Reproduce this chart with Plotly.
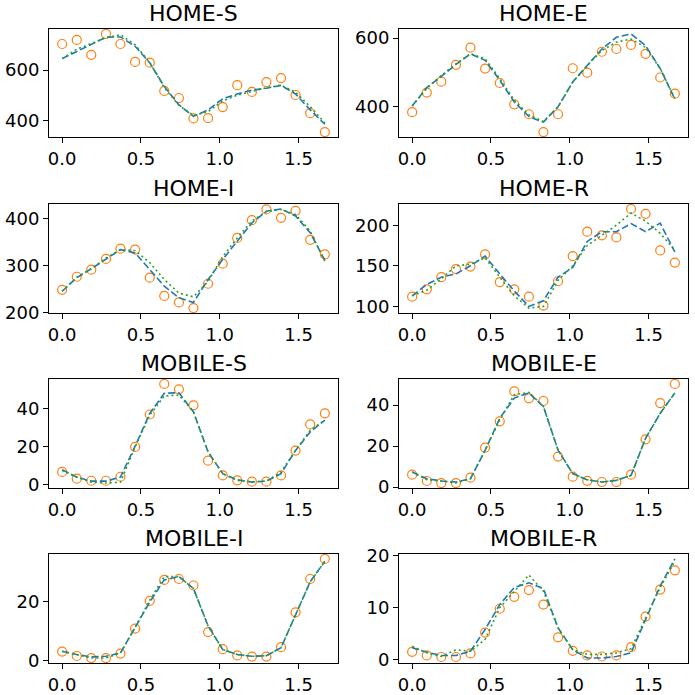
import plotly.graph_objects as go

X = [0.0, 0.093, 0.185, 0.278, 0.370, 0.463, 0.556, 0.648, 0.741, 0.833,
     0.926, 1.019, 1.111, 1.204, 1.296, 1.389, 1.481, 1.574, 1.667]

titles = ["HOME-S", "HOME-E", "HOME-I", "HOME-R",
          "MOBILE-S", "MOBILE-E", "MOBILE-I", "MOBILE-R"]

obs_home_s = [703, 719, 660, 743, 703, 632, 629, 517, 489, 408, 409, 453, 540, 513, 552, 568, 501, 429, 354]
blue_home_s = [645, 674, 700, 730, 731, 694, 628, 535, 462, 416, 442, 486, 505, 520, 528, 539, 505, 442, 385]
green_home_s = [645, 683, 705, 728, 740, 700, 630, 530, 460, 420, 435, 478, 500, 515, 530, 540, 512, 455, 390]

obs_home_e = [384, 441, 473, 522, 572, 511, 469, 407, 378, 326, 378, 512, 499, 560, 568, 580, 554, 485, 438]
blue_home_e = [402, 456, 488, 523, 554, 535, 477, 414, 371, 355, 400, 472, 520, 568, 602, 612, 578, 511, 422]
green_home_e = [402, 453, 491, 525, 554, 540, 482, 419, 376, 357, 400, 472, 520, 564, 588, 597, 573, 511, 424]

obs_home_i = [248, 276, 291, 314, 336, 334, 274, 235, 221, 209, 261, 304, 359, 397, 420, 402, 417, 355, 324]
blue_home_i = [245, 274, 293, 314, 334, 327, 291, 256, 231, 221, 270, 313, 352, 391, 416, 421, 406, 370, 311]
green_home_i = [245, 275, 293, 316, 334, 332, 306, 270, 241, 233, 266, 319, 359, 395, 416, 420, 409, 374, 309]

obs_home_r = [112, 121, 136, 146, 149, 164, 130, 121, 112, 101, 131, 162, 192, 187.5, 185, 220, 214, 169, 154]
blue_home_r = [113, 127, 136, 140, 150, 162, 140, 119, 100, 107, 136, 148, 180, 192, 192, 202, 192, 202.5, 167]
green_home_r = [113, 120, 134, 150, 152, 160, 136, 113, 98, 100, 132, 150, 175, 188, 200, 215, 205, 190, 169]

obs_mob_s = [6.7, 3.2, 2.1, 2.1, 4.2, 19.8, 36.8, 52.8, 50.0, 41.6, 12.6, 4.9, 2.3, 1.6, 1.6, 4.9, 17.9, 31.6, 37.4]
blue_mob_s = [7.9, 4.0, 1.9, 1.9, 4.0, 20.2, 37.4, 47.9, 48.2, 38.2, 17.2, 5.8, 2.6, 1.4, 1.9, 5.8, 18.0, 27.7, 33.9]
green_mob_s = [7.5, 4.0, 1.4, 0.9, 1.4, 19.8, 36.5, 46.5, 47.0, 38.2, 17.2, 5.8, 2.3, 1.6, 1.9, 6.7, 18.0, 28.6, 33.9]

obs_mob_e = [6.1, 3.0, 2.0, 2.0, 4.6, 19.3, 32.1, 46.7, 43.3, 42.0, 14.9, 5.1, 3.1, 2.5, 2.5, 6.1, 23.3, 41.0, 50.3]
blue_mob_e = [7.4, 4.1, 3.0, 2.5, 4.1, 18.0, 33.6, 43.4, 45.9, 39.3, 18.0, 6.6, 3.6, 2.5, 3.3, 5.7, 23.8, 36.0, 45.9]
green_mob_e = [7.4, 3.6, 3.0, 2.0, 4.1, 18.0, 32.8, 45.1, 46.2, 39.3, 18.0, 6.6, 3.6, 2.5, 3.3, 5.7, 23.8, 36.0, 45.9]

obs_mob_i = [3.1, 1.6, 0.9, 0.9, 2.4, 10.9, 20.3, 27.4, 27.7, 25.5, 9.7, 3.9, 1.8, 1.4, 1.4, 4.6, 16.4, 27.7, 34.5]
blue_mob_i = [3.2, 2.1, 1.3, 1.5, 2.6, 11.3, 19.9, 27.4, 28.5, 24.5, 11.8, 3.8, 2.1, 1.5, 1.7, 4.4, 15.3, 26.8, 33.7]
green_mob_i = [3.2, 2.1, 0.9, 0.9, 2.6, 11.3, 20.5, 28.5, 28.5, 24.5, 11.8, 3.8, 2.1, 1.5, 1.7, 4.4, 15.3, 26.8, 33.7]

obs_mob_r = [1.5, 0.8, 0.5, 0.5, 1.2, 5.2, 9.8, 12.1, 13.4, 10.6, 4.3, 1.7, 0.8, 0.6, 0.8, 2.4, 8.3, 13.5, 17.2]
blue_mob_r = [2.3, 1.4, 0.8, 0.8, 1.6, 5.8, 10.6, 13.9, 14.8, 13.7, 6.1, 1.9, 0.3, 0.3, 0.6, 1.3, 7.7, 14.2, 19.4]
green_mob_r = [2.6, 1.3, 0.6, 1.9, 1.6, 3.9, 10.0, 13.2, 16.3, 13.2, 6.1, 1.9, 1.0, 1.0, 1.3, 2.1, 8.1, 13.9, 19.0]

panels = [
    (obs_home_s, blue_home_s, green_home_s, 200),
    (obs_home_e, blue_home_e, green_home_e, 200),
    (obs_home_i, blue_home_i, green_home_i, 100),
    (obs_home_r, blue_home_r, green_home_r, 50),
    (obs_mob_s, blue_mob_s, green_mob_s, 20),
    (obs_mob_e, blue_mob_e, green_mob_e, 20),
    (obs_mob_i, blue_mob_i, green_mob_i, 20),
    (obs_mob_r, blue_mob_r, green_mob_r, 10),
]

W = H = 695
col_px = [(49, 338), (399, 688)]
row_px = [(29, 137), (204, 313), (379, 488), (554, 663)]

FONT = "DejaVu Sans"
fig = go.Figure()
layout = dict(
    width=W, height=H, margin=dict(l=0, r=0, t=0, b=0),
    paper_bgcolor="white", plot_bgcolor="white", showlegend=False,
    font=dict(family=FONT, size=18, color="black"),
)
annotations = []

def margin_range(vals):
    lo, hi = min(vals), max(vals)
    pad = 0.05 * (hi - lo)
    return [lo - pad, hi + pad]

xr = margin_range(X)

for i, (obs, blue, green, dt) in enumerate(panels):
    r, c = divmod(i, 2)
    n = i + 1
    xa = "x" if n == 1 else f"x{n}"
    ya = "y" if n == 1 else f"y{n}"
    fig.add_trace(go.Scatter(x=X, y=obs, mode="markers", xaxis=xa, yaxis=ya,
                             marker=dict(symbol="circle", size=9, color="rgba(0,0,0,0)",
                                         line=dict(color="#ff7f0e", width=1.2))))
    fig.add_trace(go.Scatter(x=X, y=blue, mode="lines", xaxis=xa, yaxis=ya,
                             line=dict(color="#1f77b4", width=1.6, dash="7px,3px")))
    fig.add_trace(go.Scatter(x=X, y=green, mode="lines", xaxis=xa, yaxis=ya,
                             line=dict(color="#2ca02c", width=1.6, dash="2px,3px")))
    x0, x1 = col_px[c]
    y0, y1 = row_px[r]
    xd = [x0 / W, x1 / W]
    yd = [1 - y1 / H, 1 - y0 / H]
    common = dict(showline=True, linecolor="black", linewidth=1, mirror=True,
                  showgrid=False, zeroline=False, ticks="outside", ticklen=5,
                  tickwidth=1, tickcolor="black", automargin=False,
                  tickfont=dict(family=FONT, size=18, color="black"))
    key_x = "xaxis" if n == 1 else f"xaxis{n}"
    key_y = "yaxis" if n == 1 else f"yaxis{n}"
    layout[key_x] = dict(domain=xd, range=xr, anchor=ya, dtick=0.5, tick0=0,
                         tickformat=".1f", **common)
    layout[key_y] = dict(domain=yd, range=margin_range(obs + blue + green), anchor=xa,
                         dtick=dt, tick0=0, **common)
    annotations.append(dict(text=titles[i], xref="paper", yref="paper",
                            x=(xd[0] + xd[1]) / 2, y=yd[1], xanchor="center",
                            yanchor="bottom", yshift=1, showarrow=False,
                            font=dict(family=FONT, size=22, color="black")))

layout["annotations"] = annotations
fig.update_layout(**layout)
fig.write_html("out.html", config={"displayModeBar": False},
               post_script="document.body.style.margin='0px';document.body.style.padding='0px';")
